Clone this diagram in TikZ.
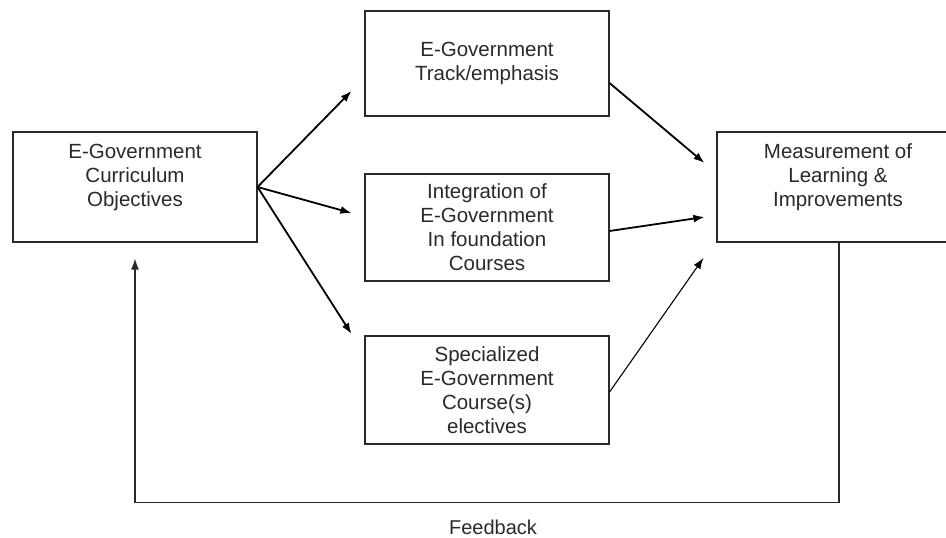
\documentclass[tikz,border=0pt]{standalone}
\usepackage{fontspec}
\setmainfont{Liberation Sans}
\usetikzlibrary{arrows.meta,calc}
\definecolor{inkgray}{HTML}{2A2A2A}
\tikzset{
  stagebox/.style={draw=inkgray, line width=1.1pt, inner sep=0pt, align=center,
    minimum width=244pt, text=inkgray, font=\fontsize{20.5}{24}\selectfont},
  flow/.style={draw=black, line width=1.8pt, -{Latex[length=11pt,width=8pt]}},
  thinflow/.style={draw=black, line width=1.1pt, -{Latex[length=11pt,width=8pt]}},
  loopline/.style={draw=inkgray, line width=1.4pt, -{Latex[length=11pt,width=8pt]}}
}
\begin{document}
\begin{tikzpicture}[x=1pt,y=-1pt]
  \useasboundingbox (0,0) rectangle (946,538);
  \clip (0,0) rectangle (946,538);
  \fill[white] (0,0) rectangle (946,538);

  % curriculum stages
  \node[stagebox, minimum height=110pt] (obj) at (135,187)
    {E-Government\\Curriculum\\Objectives\\\mbox{}};
  \node[stagebox, minimum height=105pt] (track) at (487,63.5)
    {E-Government\\Track/emphasis};
  \node[stagebox, minimum height=107pt] (integ) at (487,227.5)
    {Integration of\\E-Government\\In foundation\\Courses};
  \node[stagebox, minimum height=108pt] (spec) at (487,390)
    {Specialized\\E-Government\\Course(s)\\electives};
  \node[stagebox, minimum width=242pt, minimum height=110pt] (meas) at (838,187)
    {Measurement of\\Learning \&\\Improvements\\\mbox{}};

  % objectives feed the three delivery routes
  \draw[flow] (obj.east) -- ($(track.west)+(-13,27.5)$);
  \draw[flow] (obj.east) -- ($(integ.west)+(-13,-14.5)$);
  \draw[flow] (obj.east) -- ($(spec.west)+(-13,-56)$);

  % delivery routes lead to measurement
  \draw[flow] ($(track.east)+(0,19.5)$) -- ($(meas.west)+(-12,-24)$);
  \draw[flow] ($(integ.east)+(0,3.5)$) -- ($(meas.west)+(-12,30)$);
  \draw[thinflow] ($(spec.east)+(0,2)$) -- ($(meas.west)+(-13,71)$);

  % feedback loop back to the objectives
  \draw[loopline] ($(meas.south)+(1,0)$) -- ++(0,260) -| ($(obj.south)+(0,16)$);
  \node[text=inkgray, inner sep=0pt, font=\fontsize{20}{24}\selectfont] (fb) at (493,527) {Feedback};
\end{tikzpicture}
\end{document}
